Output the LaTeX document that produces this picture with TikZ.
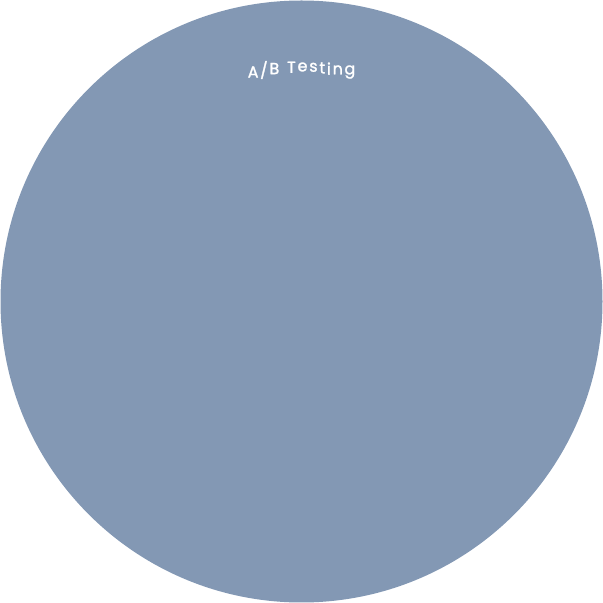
\documentclass[tikz,border=0pt]{standalone}
\usepackage{fontspec}
\setmainfont{Poppins}[FakeBold=1.6]
\usetikzlibrary{decorations.text}
\definecolor{disc}{RGB}{131,152,180}
\tikzset{
  discfill/.style={fill=disc, draw=none},
  arclabel/.style={font=\fontsize{16}{18}\selectfont, decorate, decoration={text effects along path,
    text={A/B Testing}, text align=center,
    text effects/.cd, character widths={inner xsep=0.9pt},
    characters={text=white}}}
}
\begin{document}
\begin{tikzpicture}[x=1pt,y=1pt]
\useasboundingbox (0,0) rectangle (603,603);
\node[discfill, circle, minimum size=602pt, inner sep=0pt] (c) at (301.5,301.5) {};
\path[arclabel] (c.center) ++(125:234.5) arc[start angle=125, end angle=55, radius=234.5];
\end{tikzpicture}
\end{document}
